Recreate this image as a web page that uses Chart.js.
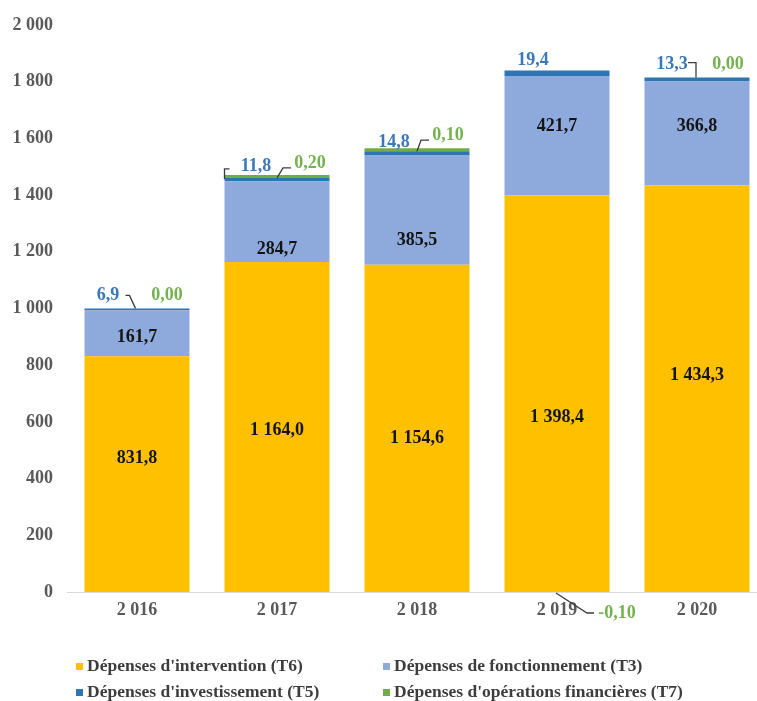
<!DOCTYPE html>
<html lang="fr">
<head>
<meta charset="utf-8">
<title>Dépenses par titre</title>
<script src="https://cdn.jsdelivr.net/npm/chart.js@4.4.1/dist/chart.umd.min.js"></script>
<style>
  html, body { margin: 0; padding: 0; background: #ffffff; overflow: hidden; }
  #wrap { position: absolute; left: 0; top: 0; width: 767px; height: 701px; }
</style>
</head>
<body>
<div id="wrap"><canvas id="chart" width="767" height="701"></canvas></div>
<script>
// Années
const years = ['2 016', '2 017', '2 018', '2 019', '2 020'];

// Montants par titre (M€)
const interventionT6 = [831.8, 1164.0, 1154.6, 1398.4, 1434.3];
const fonctionnementT3 = [161.7, 284.7, 385.5, 421.7, 366.8];
const investissementT5 = [6.9, 11.8, 14.8, 19.4, 13.3];
const operationsFinT7 = [0.00, 0.20, 0.10, -0.10, 0.00];

// Graduations de l'axe vertical
const yTicks = [0, 200, 400, 600, 800, 1000, 1200, 1400, 1600, 1800, 2000];

const seriesNames = [
  "Dépenses d'intervention (T6)",
  "Dépenses de fonctionnement (T3)",
  "Dépenses d'investissement (T5)",
  "Dépenses d'opérations financières (T7)"
];

const COLORS = {
  t6: '#FFC000',
  t3: '#8EA9DB',
  t5: '#2E75B6',
  t7: '#70AD47',
  t5Text: '#3A78B8',
  t7Text: '#74B24E',
  axisText: '#595959',
  inner: '#141414',
  leader: '#3c3c3c',
  legendText: '#3d3d3d'
};

const FONT = '"Liberation Serif", "Times New Roman", serif';

// Format français : espace pour les milliers, virgule décimale
function fr(v, digits) {
  const neg = v < 0;
  const s = Math.abs(v).toFixed(digits);
  const [intPart, dec] = s.split('.');
  const grouped = intPart.replace(/\B(?=(\d{3})+(?!\d))/g, ' ');
  return (neg ? '-' : '') + grouped + (dec !== undefined ? ',' + dec : '');
}

// Décalages verticaux des étiquettes internes (px)
const innerNudge = {
  0: [-16, 3, 10, 24, -13],
  1: [4, 28, 30, -9, -7]
};

// Placement des étiquettes T5 / T7 au-dessus des barres (relatif au centre et au sommet)
const outerLayout = [
  { t5: [-29, -13], t7: [30, -13], leaders: [[[-11.5, -13], [-7.5, -13], [-1.5, 0]]] },
  { t5: [-21, -12], t7: [33, -15], leaders: [[[-52.5, 1], [-52.5, -9], [-47.5, -9]], [[0, 0], [6, -10], [14, -10]]] },
  { t5: [-23, -9], t7: [31, -16], leaders: [[[0, 0], [4, -11], [12, -11]]] },
  { t5: [-24, -10], t7: null, leaders: [] },
  { t5: [-25, -13], t7: [31, -13], leaders: [[[-9, -15], [-1, -15], [-1, 0]]] }
];
// T7 négatif : étiquette sous l'axe (relative au centre et à la ligne du zéro)
const belowLayout = { 3: { t7: [60, 21], leader: [[-1, 1], [30, 21], [37, 21]] } };

const valueLabels = {
  id: 'valueLabels',
  afterDatasetsDraw(chart) {
    const ctx = chart.ctx;
    const yScale = chart.scales.y;
    ctx.save();
    ctx.font = 'bold 18px ' + FONT;
    ctx.textAlign = 'center';
    ctx.textBaseline = 'middle';

    // étiquettes internes (T6, T3)
    [0, 1].forEach(di => {
      const meta = chart.getDatasetMeta(di);
      const data = chart.data.datasets[di].data;
      meta.data.forEach((bar, i) => {
        const cy = (bar.y + bar.base) / 2 + innerNudge[di][i];
        ctx.fillStyle = COLORS.inner;
        ctx.fillText(fr(data[i], 1), bar.x, cy);
      });
    });

    // étiquettes externes (T5, T7) et traits de rappel
    const zeroY = yScale.getPixelForValue(0);
    years.forEach((_, i) => {
      const cx = chart.getDatasetMeta(0).data[i].x;
      let total = 0;
      chart.data.datasets.forEach(ds => { if (ds.data[i] > 0) total += ds.data[i]; });
      const topY = yScale.getPixelForValue(total);
      const lay = outerLayout[i];

      ctx.fillStyle = COLORS.t5Text;
      ctx.fillText(fr(investissementT5[i], 1), cx + lay.t5[0], topY + lay.t5[1]);

      const t7 = operationsFinT7[i];
      ctx.fillStyle = COLORS.t7Text;
      if (t7 >= 0 && lay.t7) {
        ctx.fillText(fr(t7, 2), cx + lay.t7[0], topY + lay.t7[1]);
      }

      ctx.strokeStyle = COLORS.leader;
      ctx.lineWidth = 1.3;
      lay.leaders.forEach(pts => {
        ctx.beginPath();
        pts.forEach((p, k) => {
          const px = cx + p[0], py = topY + p[1];
          if (k === 0) ctx.moveTo(px, py); else ctx.lineTo(px, py);
        });
        ctx.stroke();
      });

      if (t7 < 0 && belowLayout[i]) {
        const b = belowLayout[i];
        ctx.fillStyle = COLORS.t7Text;
        ctx.fillText(fr(t7, 2), cx + b.t7[0], zeroY + b.t7[1]);
        ctx.beginPath();
        b.leader.forEach((p, k) => {
          const px = cx + p[0], py = zeroY + p[1];
          if (k === 0) ctx.moveTo(px, py); else ctx.lineTo(px, py);
        });
        ctx.stroke();
      }
    });
    ctx.restore();
  }
};

// Légende sur deux colonnes alignées
const gridLegend = {
  id: 'gridLegend',
  afterDraw(chart) {
    const ctx = chart.ctx;
    const cols = [76, 383];
    const rows = [666, 692];
    ctx.save();
    ctx.font = 'bold 17.5px ' + FONT;
    ctx.textAlign = 'left';
    ctx.textBaseline = 'middle';
    chart.data.datasets.forEach((ds, k) => {
      const x = cols[k % 2];
      const y = rows[Math.floor(k / 2)];
      ctx.fillStyle = ds.legendColor;
      ctx.fillRect(x, y - 3, 7, 7);
      ctx.fillStyle = COLORS.legendText;
      ctx.fillText(ds.label, x + 11, y);
    });
    ctx.restore();
  }
};

const ctx = document.getElementById('chart').getContext('2d');
new Chart(ctx, {
  type: 'bar',
  data: {
    labels: years,
    datasets: [
      { label: seriesNames[0], data: interventionT6, backgroundColor: COLORS.t6, legendColor: COLORS.t6 },
      { label: seriesNames[1], data: fonctionnementT3, backgroundColor: COLORS.t3, legendColor: COLORS.t3 },
      { label: seriesNames[2], data: investissementT5, backgroundColor: COLORS.t5, legendColor: COLORS.t5 },
      {
        label: seriesNames[3], data: operationsFinT7, legendColor: COLORS.t7,
        minBarLength: 3,
        backgroundColor: c => (c.raw > 0 ? COLORS.t7 : 'rgba(0,0,0,0)')
      }
    ]
  },
  options: {
    responsive: false,
    devicePixelRatio: 1,
    animation: false,
    barPercentage: 0.75,
    categoryPercentage: 1,
    layout: { padding: { top: 25, left: 0, right: 0, bottom: 0 } },
    plugins: {
      legend: { display: false },
      tooltip: { enabled: false }
    },
    scales: {
      x: {
        stacked: true,
        grid: { display: false, drawTicks: false },
        border: { display: true, color: '#d9d9d9', width: 1 },
        ticks: {
          color: COLORS.axisText,
          font: { family: FONT, size: 18, weight: 'bold' },
          padding: 8
        },
        afterFit(scale) { scale.height = 109; }
      },
      y: {
        stacked: true,
        min: 0,
        max: 2000,
        grid: { display: false, drawTicks: false },
        border: { display: false },
        afterBuildTicks(scale) { scale.ticks = yTicks.map(v => ({ value: v })); },
        ticks: {
          color: COLORS.axisText,
          font: { family: FONT, size: 18, weight: 'bold' },
          padding: 14,
          callback: v => fr(v, 0)
        },
        afterFit(scale) { scale.width = 67; }
      }
    }
  },
  plugins: [valueLabels, gridLegend]
});
</script>
</body>
</html>
